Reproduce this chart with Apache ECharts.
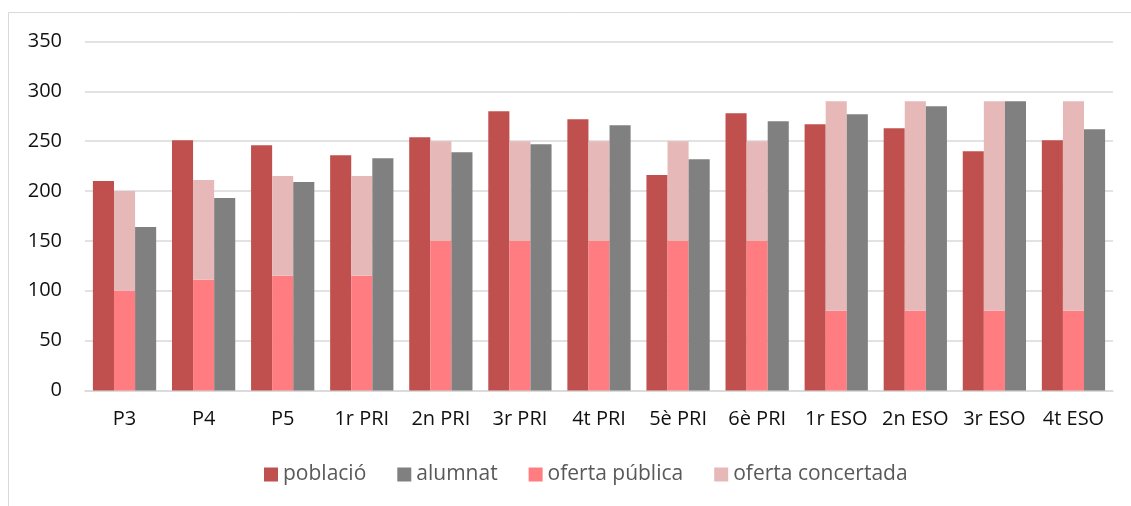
<!DOCTYPE html>
<html>
<head>
<meta charset="utf-8">
<script src="https://cdn.jsdelivr.net/npm/echarts@6/dist/echarts.min.js"></script>
<style>
html,body{margin:0;padding:0;background:#fff;}
#c{width:1131px;height:506px;}
</style>
</head>
<body>
<div id="c"></div>
<script>
const categories = ['P3','P4','P5','1r PRI','2n PRI','3r PRI','4t PRI','5è PRI','6è PRI','1r ESO','2n ESO','3r ESO','4t ESO'];
const poblacio   = [210,251,246,236,254,280,272,216,278,267,263,240,251];
const alumnat    = [164,193,209,233,239,247,266,232,270,277,285,290,262];
const ofertaPublica    = [100,111,115,115,150,150,150,150,150,80,80,80,80];
const ofertaConcertada = [100,100,100,100,100,100,100,100,100,210,210,210,210];
const yTicks = [0,50,100,150,200,250,300,350];

const font = '"Open Sans", sans-serif';
const chart = echarts.init(document.getElementById('c'), null, {renderer:'canvas'});
chart.setOption({
  animation:false,
  backgroundColor:'#fff',
  graphic:[{type:'rect', shape:{x:8.5,y:12.5,width:1200,height:600}, style:{fill:'none',stroke:'#d9d9d9',lineWidth:1}, silent:true}],
  legend:{
    data:['població','alumnat','oferta pública','oferta concertada'],
    bottom:16, left:259,
    itemWidth:14, itemHeight:14, itemGap:31,
    icon:'rect',
    textStyle:{fontFamily:font,fontSize:21,color:'#595959'}
  },
  grid:{left:85,right:18,top:41.5,bottom:115.5,containLabel:false},
  xAxis:{
    type:'category', data:categories,
    axisLine:{lineStyle:{color:'#d9d9d9',width:1.5}},
    axisTick:{show:false},
    axisLabel:{fontFamily:font,fontSize:20,color:'#111',margin:19,interval:0}
  },
  yAxis:{
    type:'value', min:yTicks[0], max:yTicks[yTicks.length-1], interval:50,
    axisLine:{show:false}, axisTick:{show:false},
    splitLine:{lineStyle:{color:'#d9d9d9',width:1.5}},
    axisLabel:{fontFamily:font,fontSize:20,color:'#111',margin:23}
  },
  series:[
    {name:'població',type:'bar',data:poblacio,itemStyle:{color:'#C0504D'},barGap:'0%',barCategoryGap:'20%'},
    {name:'oferta pública',type:'bar',stack:'oferta',data:ofertaPublica,itemStyle:{color:'#FF7C80'},barGap:'0%',barCategoryGap:'20%'},
    {name:'oferta concertada',type:'bar',stack:'oferta',data:ofertaConcertada,itemStyle:{color:'#E6B9B8'},barGap:'0%',barCategoryGap:'20%'},
    {name:'alumnat',type:'bar',data:alumnat,itemStyle:{color:'#808080'},barGap:'0%',barCategoryGap:'20%'}
  ]
});
</script>
</body>
</html>
